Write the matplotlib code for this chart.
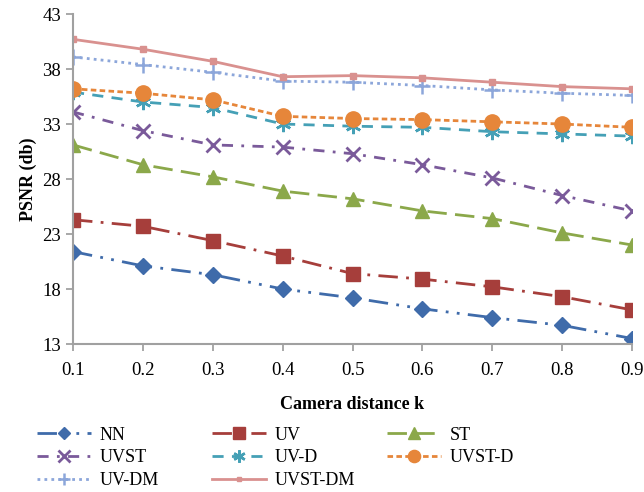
import matplotlib
matplotlib.use("Agg")
import matplotlib.pyplot as plt

plt.rcParams['font.family'] = ['Liberation Serif', 'DejaVu Serif']

# camera distance k
k = [0.1, 0.2, 0.3, 0.4, 0.5, 0.6, 0.7, 0.8, 0.9]

# PSNR (db) per method
nn = [21.4, 20.1, 19.3, 18.0, 17.2, 16.2, 15.4, 14.7, 13.5]
uv = [24.3, 23.7, 22.4, 21.0, 19.4, 18.9, 18.2, 17.3, 16.1]
st = [31.1, 29.3, 28.2, 26.9, 26.2, 25.1, 24.4, 23.1, 22.0]
uvst = [34.1, 32.4, 31.1, 30.9, 30.3, 29.3, 28.1, 26.5, 25.1]
uv_d = [35.9, 35.0, 34.5, 33.0, 32.8, 32.7, 32.3, 32.1, 31.9]
uvst_d = [36.2, 35.8, 35.2, 33.7, 33.5, 33.4, 33.2, 33.0, 32.7]
uv_dm = [39.1, 38.4, 37.7, 36.9, 36.8, 36.5, 36.1, 35.8, 35.6]
uvst_dm = [40.7, 39.8, 38.7, 37.3, 37.4, 37.2, 36.8, 36.4, 36.2]

fig = plt.figure(figsize=(6.44, 4.92), dpi=100)
ax = fig.add_axes([0.1134, 0.3008, 0.868, 0.6707])

lw = 2.0
h_nn, = ax.plot(k, nn, color='#3F6BAA', lw=lw, ls=(0, (7, 3, 1, 3, 1, 3)),
                marker='D', ms=8, label='NN')
h_uv, = ax.plot(k, uv, color='#A63E3B', lw=lw, ls=(0, (7, 3, 1, 3)),
                marker='s', ms=10, label='UV')
h_st, = ax.plot(k, st, color='#8BA84A', lw=lw, ls=(0, (7, 3)),
                marker='^', ms=10, label='ST')
h_uvst, = ax.plot(k, uvst, color='#7A5A9A', lw=lw, ls=(0, (4, 3, 1, 3)),
                  marker='x', ms=10, mew=2, label='UVST')
h_uvd, = ax.plot(k, uv_d, color='#45A0B6', lw=lw, ls=(0, (4, 3)),
                 marker=(6, 2, 0), ms=11, mew=1.8, label='UV-D')
h_uvstd, = ax.plot(k, uvst_d, color='#E6863A', lw=lw, ls=(0, (2, 1.2)),
                   marker='o', ms=11, label='UVST-D')
h_uvdm, = ax.plot(k, uv_dm, color='#8CA6DA', lw=lw, ls=(0, (1, 1.5)),
                  marker='+', ms=11, mew=1.8, label='UV-DM')
h_uvstdm, = ax.plot(k, uvst_dm, color='#D9918F', lw=lw, ls='-',
                    marker='s', ms=4, label='UVST-DM')

ax.set_xlim(0.1, 0.9)
ax.set_ylim(13, 43)
ax.set_xticks(k)
ax.set_xticklabels([f'{v:.1f}' for v in k])
ax.set_yticks([13, 18, 23, 28, 33, 38, 43])
ax.tick_params(labelsize=13.5, color='#999999', length=5, width=1.2)
ax.tick_params(axis='x', pad=8)
for s in ['top', 'right']:
    ax.spines[s].set_visible(False)
for s in ['left', 'bottom']:
    ax.spines[s].set_color('#A0A0A0')
    ax.spines[s].set_linewidth(1.5)
ax.set_ylabel('PSNR (db)', fontsize=13, fontweight='bold')
ax.set_xlabel('Camera distance k', fontsize=13, fontweight='bold', labelpad=12)
for t in ax.get_xticklabels():
    t.set_clip_on(False)

# legend: one column each, placed like the original layout
columns = [[h_nn, h_uvst, h_uvdm], [h_uv, h_uvd, h_uvstdm], [h_st, h_uvstd]]
col_x = [0.032, 0.304, 0.576]
for hs, x0 in zip(columns, col_x):
    fig.legend(handles=hs, labels=[h.get_label() for h in hs],
               loc='upper left', bbox_to_anchor=(x0, 0.166),
               frameon=False, fontsize=13, handlelength=3.0,
               handletextpad=0.45, labelspacing=0.32, markerscale=0.8)

fig.savefig('out.png', dpi=100)
